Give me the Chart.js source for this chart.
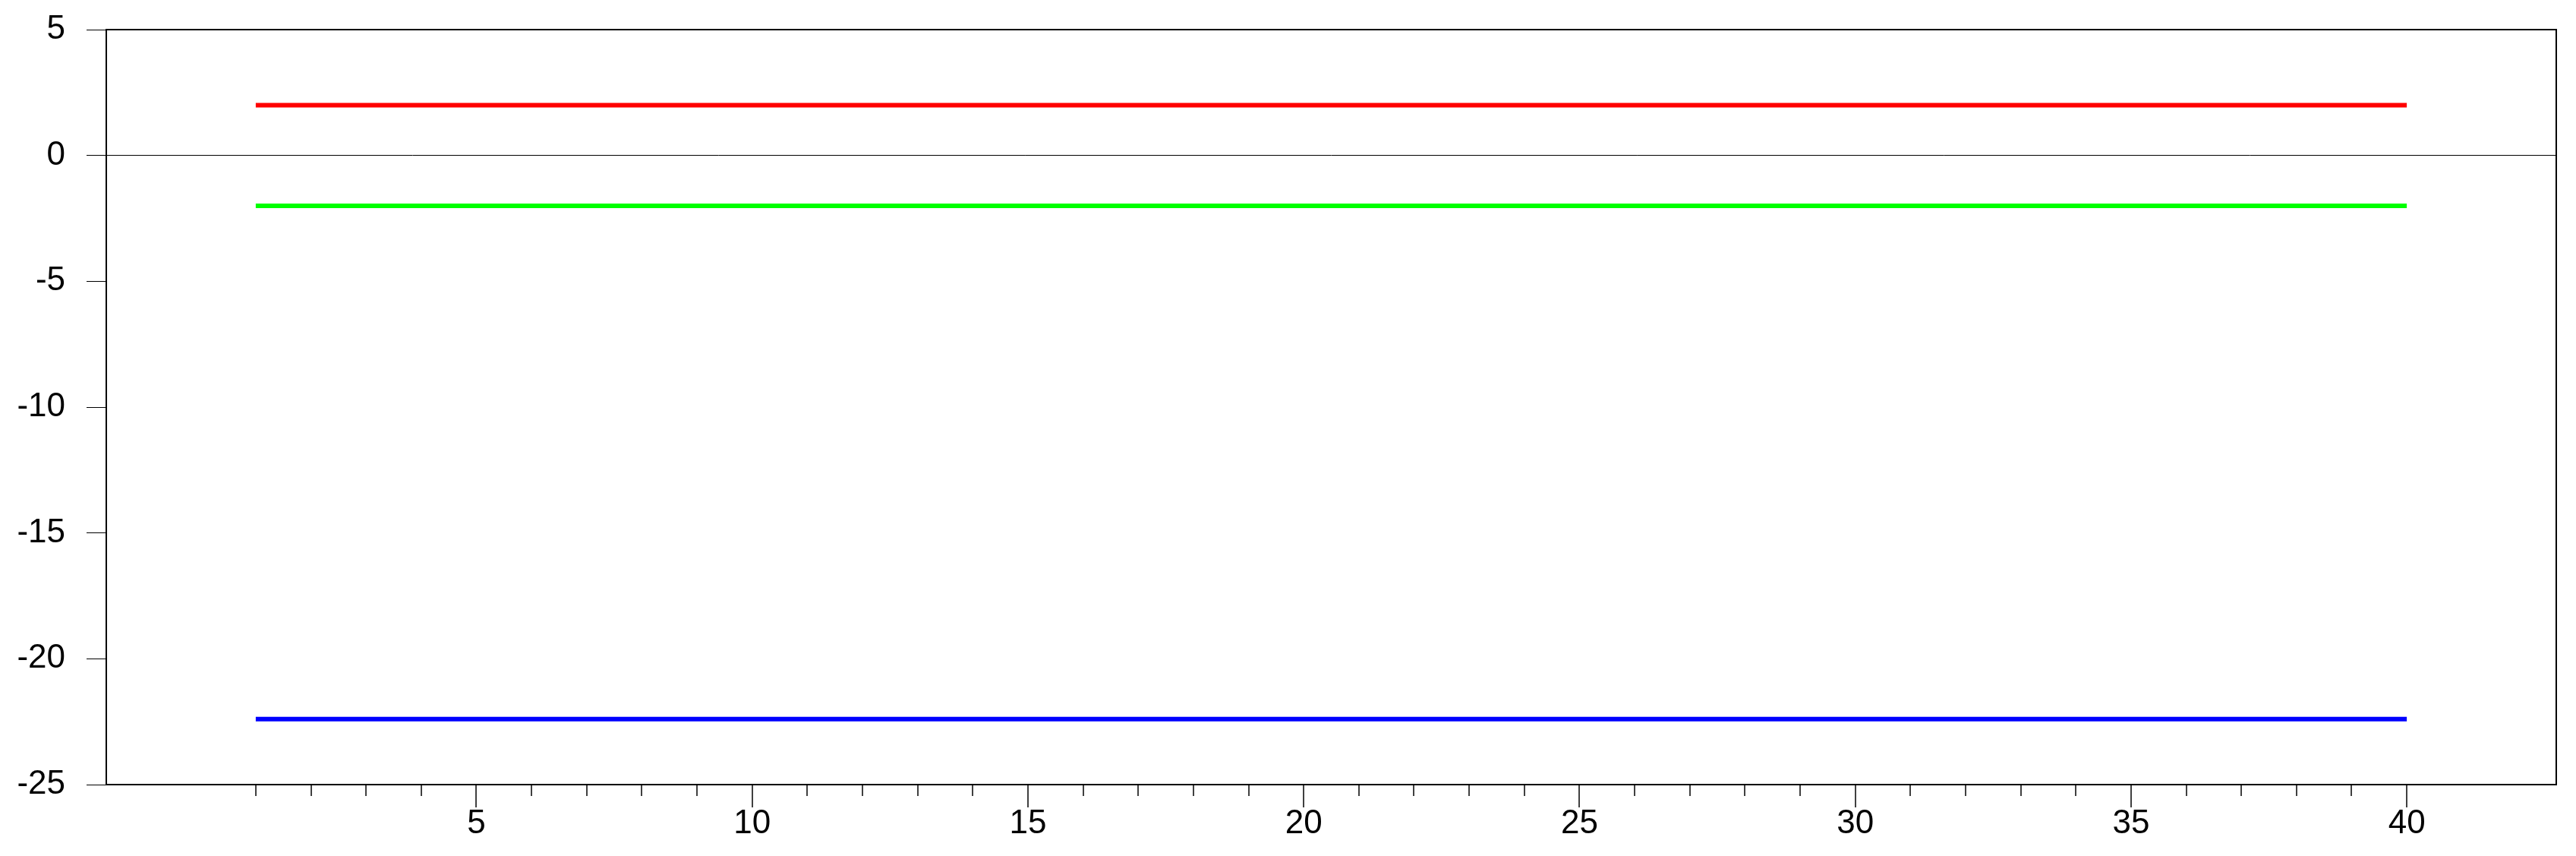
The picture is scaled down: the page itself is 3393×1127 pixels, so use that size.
<!DOCTYPE html>
<html>
<head>
<meta charset="utf-8">
<script src="https://cdn.jsdelivr.net/npm/chart.js@4"></script>
<style>
  html, body { margin: 0; padding: 0; background: #ffffff; }
  #wrap { width: 3393px; height: 1127px; }
</style>
</head>
<body>
<div id="wrap"><canvas id="c" width="3393" height="1127"></canvas></div>
<script>
const categories = [1,2,3,4,5,6,7,8,9,10,11,12,13,14,15,16,17,18,19,20,21,22,23,24,25,26,27,28,29,30,31,32,33,34,35,36,37,38,39,40];
const redValues = [2,2,2,2,2,2,2,2,2,2,2,2,2,2,2,2,2,2,2,2,2,2,2,2,2,2,2,2,2,2,2,2,2,2,2,2,2,2,2,2];
const greenValues = [-2,-2,-2,-2,-2,-2,-2,-2,-2,-2,-2,-2,-2,-2,-2,-2,-2,-2,-2,-2,-2,-2,-2,-2,-2,-2,-2,-2,-2,-2,-2,-2,-2,-2,-2,-2,-2,-2,-2,-2];
const blueValues = [-22.4,-22.4,-22.4,-22.4,-22.4,-22.4,-22.4,-22.4,-22.4,-22.4,-22.4,-22.4,-22.4,-22.4,-22.4,-22.4,-22.4,-22.4,-22.4,-22.4,-22.4,-22.4,-22.4,-22.4,-22.4,-22.4,-22.4,-22.4,-22.4,-22.4,-22.4,-22.4,-22.4,-22.4,-22.4,-22.4,-22.4,-22.4,-22.4,-22.4];
const yTickValues = [5, 0, -5, -10, -15, -20, -25];
const xTickLabels = [5, 10, 15, 20, 25, 30, 35, 40];

const toPoints = vals => categories.map((c, i) => ({ x: c, y: vals[i] }));

const FONT = { family: "'Liberation Sans', Arial, sans-serif", size: 44 };

const framePlugin = {
  id: 'framePlugin',
  afterDraw(chart) {
    const ctx = chart.ctx;
    const a = chart.chartArea;
    const xs = chart.scales.x;
    const L = Math.round(a.left), T = Math.round(a.top), R = Math.round(a.right), B = Math.round(a.bottom);
    ctx.save();
    ctx.strokeStyle = '#000000';
    ctx.lineWidth = 2;
    ctx.beginPath();
    ctx.rect(L, T, R - L, B - T);
    ctx.stroke();
    ctx.lineWidth = 1.5;
    categories.forEach(c => {
      const px = Math.round(xs.getPixelForValue(c));
      const len = xTickLabels.includes(c) ? 30 : 15;
      ctx.beginPath();
      ctx.moveTo(px, B);
      ctx.lineTo(px, B + len);
      ctx.stroke();
    });
    ctx.restore();
  }
};

new Chart(document.getElementById('c'), {
  type: 'line',
  data: {
    datasets: [
      { data: toPoints(redValues), borderColor: '#ff0000', borderWidth: 6, pointRadius: 0, fill: false, tension: 0 },
      { data: toPoints(greenValues), borderColor: '#00ff00', borderWidth: 6, pointRadius: 0, fill: false, tension: 0 },
      { data: toPoints(blueValues), borderColor: '#0000ff', borderWidth: 6, pointRadius: 0, fill: false, tension: 0 }
    ]
  },
  options: {
    responsive: false,
    animation: false,
    events: [],
    layout: { padding: { top: 39, right: 26, left: 0, bottom: 0 } },
    plugins: { legend: { display: false }, tooltip: { enabled: false }, title: { display: false } },
    scales: {
      x: {
        type: 'linear',
        min: -1.71,
        max: 42.71,
        afterBuildTicks: s => { s.ticks = categories.map(v => ({ value: v })); },
        afterFit: s => { s.height = 94; s.paddingLeft = 0; s.paddingRight = 0; },
        border: { display: false },
        grid: { display: false, drawTicks: false },
        ticks: {
          autoSkip: false,
          maxRotation: 0,
          padding: 25,
          color: '#000000',
          font: FONT,
          callback: v => (xTickLabels.includes(v) ? String(v) : '')
        }
      },
      y: {
        type: 'linear',
        min: -25,
        max: 5,
        afterBuildTicks: s => { s.ticks = yTickValues.map(v => ({ value: v })); },
        afterFit: s => { s.width = 140; s.paddingTop = 0; s.paddingBottom = 0; },
        border: { display: false },
        grid: {
          drawOnChartArea: true,
          drawTicks: true,
          tickLength: 26,
          tickColor: '#000000',
          tickWidth: 1,
          lineWidth: 1,
          color: c => (c.tick && c.tick.value === 0 ? '#000000' : 'rgba(0,0,0,0)')
        },
        ticks: {
          padding: 28,
          color: '#000000',
          font: FONT,
          callback: v => String(v)
        }
      }
    }
  },
  plugins: [framePlugin]
});
</script>
</body>
</html>
